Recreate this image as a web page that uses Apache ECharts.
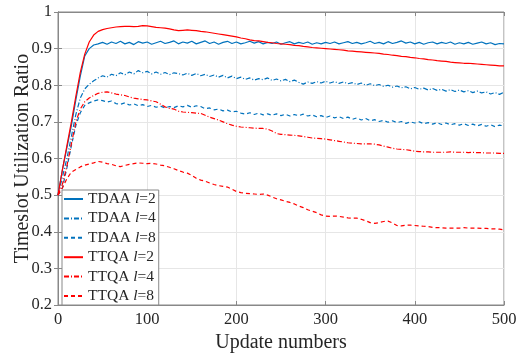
<!DOCTYPE html>
<html><head><meta charset="utf-8">
<script src="https://cdn.jsdelivr.net/npm/echarts@6/dist/echarts.min.js"></script>
<style>html,body{margin:0;padding:0;background:#fff}#c{width:518px;height:354px}</style>
</head><body><div id="c"></div>
<script>
const updates = [0,5,10,15,20,25,30,35,40,45,50,55,60,65,70,75,80,85,90,95,100,105,110,115,120,125,130,135,140,145,150,155,160,165,170,175,180,185,190,195,200,205,210,215,220,225,230,235,240,245,250,255,260,265,270,275,280,285,290,295,300,305,310,315,320,325,330,335,340,345,350,355,360,365,370,375,380,385,390,395,400,405,410,415,420,425,430,435,440,445,450,455,460,465,470,475,480,485,490,495,500];

const tdaaL2 = [0.500,0.570,0.630,0.690,0.760,0.825,0.880,0.900,0.910,0.913,0.917,0.912,0.918,0.914,0.920,0.913,0.917,0.911,0.919,0.915,0.918,0.912,0.916,0.920,0.914,0.917,0.921,0.913,0.918,0.915,0.920,0.913,0.917,0.921,0.914,0.918,0.912,0.917,0.920,0.914,0.918,0.913,0.916,0.920,0.915,0.919,0.913,0.917,0.914,0.918,0.912,0.916,0.919,0.913,0.917,0.914,0.918,0.912,0.916,0.913,0.917,0.914,0.918,0.913,0.916,0.919,0.914,0.917,0.913,0.916,0.920,0.914,0.917,0.913,0.919,0.914,0.917,0.921,0.915,0.918,0.913,0.917,0.912,0.916,0.918,0.913,0.917,0.914,0.918,0.912,0.916,0.913,0.917,0.912,0.915,0.918,0.913,0.916,0.911,0.914,0.913];

const tdaaL4 = [0.500,0.550,0.600,0.660,0.720,0.765,0.790,0.803,0.812,0.820,0.826,0.822,0.830,0.826,0.834,0.829,0.836,0.831,0.840,0.834,0.838,0.831,0.836,0.830,0.835,0.829,0.834,0.832,0.828,0.833,0.827,0.832,0.826,0.830,0.824,0.828,0.822,0.827,0.820,0.825,0.818,0.822,0.816,0.820,0.814,0.818,0.815,0.820,0.813,0.817,0.812,0.816,0.810,0.814,0.808,0.803,0.809,0.805,0.810,0.806,0.811,0.806,0.810,0.805,0.809,0.804,0.807,0.802,0.806,0.800,0.804,0.799,0.802,0.797,0.800,0.795,0.798,0.793,0.796,0.790,0.794,0.789,0.792,0.787,0.791,0.786,0.789,0.784,0.788,0.783,0.787,0.782,0.785,0.780,0.784,0.779,0.782,0.776,0.780,0.775,0.781];

const tdaaL8 = [0.500,0.520,0.575,0.635,0.690,0.725,0.745,0.752,0.757,0.760,0.758,0.754,0.757,0.750,0.748,0.752,0.746,0.749,0.744,0.747,0.742,0.745,0.740,0.743,0.738,0.742,0.739,0.744,0.741,0.745,0.740,0.744,0.742,0.736,0.738,0.733,0.735,0.730,0.732,0.727,0.729,0.724,0.721,0.725,0.720,0.724,0.719,0.722,0.718,0.722,0.717,0.721,0.716,0.720,0.717,0.721,0.716,0.719,0.714,0.717,0.712,0.716,0.711,0.714,0.709,0.713,0.707,0.711,0.705,0.709,0.703,0.706,0.701,0.704,0.699,0.703,0.698,0.701,0.696,0.700,0.697,0.700,0.695,0.698,0.694,0.698,0.693,0.697,0.692,0.695,0.691,0.695,0.690,0.694,0.689,0.693,0.688,0.692,0.687,0.691,0.689];

const ttqaL2 = [0.500,0.570,0.635,0.700,0.770,0.835,0.885,0.918,0.937,0.947,0.952,0.955,0.957,0.959,0.960,0.961,0.961,0.960,0.961,0.963,0.962,0.960,0.958,0.957,0.956,0.954,0.951,0.949,0.950,0.951,0.950,0.949,0.947,0.946,0.944,0.942,0.940,0.938,0.936,0.934,0.932,0.929,0.927,0.924,0.922,0.921,0.919,0.917,0.916,0.914,0.913,0.912,0.911,0.909,0.908,0.906,0.905,0.903,0.902,0.901,0.900,0.899,0.898,0.897,0.896,0.894,0.893,0.892,0.891,0.890,0.889,0.888,0.887,0.885,0.884,0.882,0.881,0.879,0.878,0.876,0.875,0.873,0.872,0.870,0.869,0.867,0.866,0.865,0.863,0.862,0.861,0.860,0.860,0.859,0.858,0.857,0.856,0.855,0.854,0.853,0.853];

const ttqaL4 = [0.500,0.530,0.580,0.640,0.700,0.735,0.755,0.765,0.772,0.778,0.781,0.782,0.779,0.776,0.774,0.772,0.768,0.765,0.763,0.761,0.760,0.757,0.755,0.748,0.741,0.737,0.735,0.729,0.727,0.726,0.725,0.724,0.723,0.718,0.713,0.709,0.705,0.700,0.695,0.691,0.688,0.686,0.685,0.684,0.683,0.682,0.682,0.680,0.675,0.668,0.666,0.665,0.664,0.663,0.662,0.660,0.658,0.656,0.655,0.654,0.653,0.651,0.649,0.647,0.645,0.643,0.642,0.641,0.640,0.640,0.640,0.639,0.637,0.634,0.631,0.628,0.626,0.625,0.624,0.622,0.620,0.619,0.618,0.618,0.617,0.617,0.617,0.617,0.618,0.617,0.617,0.617,0.616,0.617,0.616,0.616,0.615,0.615,0.615,0.614,0.614];

const ttqaL8 = [0.500,0.520,0.545,0.563,0.570,0.577,0.582,0.585,0.588,0.592,0.590,0.586,0.584,0.580,0.578,0.581,0.584,0.586,0.588,0.587,0.586,0.587,0.585,0.582,0.580,0.576,0.572,0.567,0.563,0.560,0.554,0.546,0.541,0.538,0.533,0.529,0.526,0.524,0.522,0.516,0.510,0.507,0.505,0.504,0.503,0.502,0.503,0.500,0.495,0.490,0.487,0.483,0.480,0.476,0.470,0.466,0.460,0.456,0.452,0.446,0.443,0.442,0.443,0.442,0.440,0.438,0.437,0.437,0.434,0.430,0.425,0.423,0.425,0.428,0.429,0.424,0.417,0.416,0.418,0.418,0.417,0.416,0.415,0.414,0.412,0.411,0.411,0.410,0.410,0.410,0.410,0.411,0.410,0.410,0.410,0.409,0.409,0.408,0.408,0.407,0.405];

const seriesNames = ['TDAA l=2','TDAA l=4','TDAA l=8','TTQA l=2','TTQA l=4','TTQA l=8'];
const seriesValues = [tdaaL2, tdaaL4, tdaaL8, ttqaL2, ttqaL4, ttqaL8];

const BLUE = '#0072BD', RED = '#FF0000';
const styles = [
  {color: BLUE, type: 'solid'},
  {color: BLUE, type: [5,2,1,2]},
  {color: BLUE, type: [4,3]},
  {color: RED, type: 'solid'},
  {color: RED, type: [5,2,1,2]},
  {color: RED, type: [4,3]}
];

const FONT = '"Liberation Serif", "Times New Roman", serif';
const chart = echarts.init(document.getElementById('c'), null, {renderer: 'canvas'});

const series = seriesNames.map((name, k) => ({
  name,
  type: 'line',
  data: updates.map((x, i) => [x, seriesValues[k][i]]),
  showSymbol: false,
  symbol: 'none',
  animation: false,
  color: styles[k].color,
  lineStyle: {color: styles[k].color, width: 1.2, type: styles[k].type}
}));

const axisCommon = {
  axisLine: {show: true, lineStyle: {color: '#888', width: 1}},
  axisTick: {show: true, inside: true, length: 4, lineStyle: {color: '#888'}},
};

chart.setOption({
  animation: false,
  backgroundColor: '#fff',
  grid: {left: 58, right: 14, top: 12, bottom: 49, show: true, borderColor: '#888', borderWidth: 1,
    containLabel: false, outerBoundsMode: 'none'},
  xAxis: [{
    type: 'value', min: 0, max: 500, interval: 100,
    name: 'Update numbers', nameLocation: 'middle', nameGap: 28,
    nameTextStyle: {fontFamily: FONT, fontSize: 20, color: '#262626'},
    ...axisCommon,
    axisLabel: {fontFamily: FONT, fontSize: 16.5, color: '#262626', margin: 6},
    splitLine: {show: true, lineStyle: {color: '#e6e6e6', width: 1}}
  }, {
    type: 'value', min: 0, max: 500, interval: 100, position: 'top',
    ...axisCommon, axisLabel: {show: false}, splitLine: {show: false}
  }],
  yAxis: [{
    type: 'value', min: 0.2, max: 1, interval: 0.1,
    name: 'Timeslot Utilization Ratio', nameLocation: 'middle', nameGap: 25,
    nameMoveOverlap: false,
    nameTextStyle: {fontFamily: FONT, fontSize: 20, color: '#262626'},
    ...axisCommon,
    axisLabel: {fontFamily: FONT, fontSize: 16.5, color: '#262626', margin: 6,
      formatter: v => String(Math.round(v * 10) / 10)},
    splitLine: {show: true, lineStyle: {color: '#e6e6e6', width: 1}}
  }, {
    type: 'value', min: 0.2, max: 1, interval: 0.1, position: 'right',
    ...axisCommon, axisLabel: {show: false}, splitLine: {show: false}
  }],
  legend: {
    orient: 'vertical', left: 62, top: 190,
    backgroundColor: '#fff', borderColor: '#888', borderWidth: 1, borderRadius: 0,
    padding: [1, 3, 1, 1],
    itemWidth: 19, itemHeight: 14, itemGap: 3.4,
    itemStyle: {opacity: 0},
    data: seriesNames,
    formatter: name => name.replace(' l=', ' {i|l}='),
    textStyle: {fontFamily: FONT, fontSize: 15.5, lineHeight: 14, color: '#262626',
      rich: {i: {fontFamily: FONT, fontSize: 15.5, lineHeight: 14, fontStyle: 'italic', color: '#262626'}}}
  },
  series
});
</script>
</body></html>
